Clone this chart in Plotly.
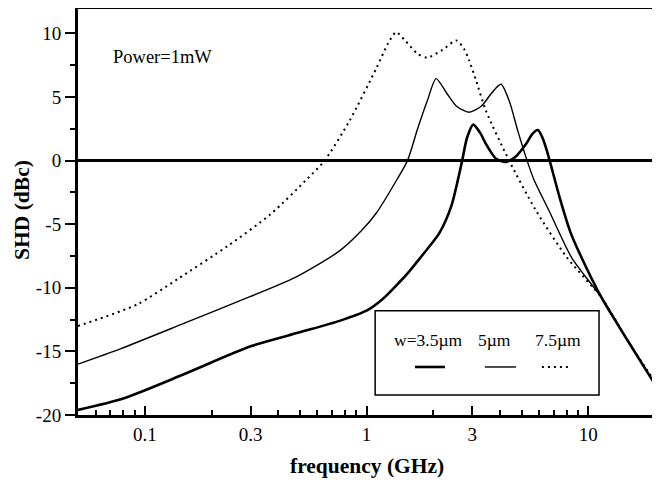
import plotly.graph_objects as go

# frequency (GHz) / SHD (dBc)
f_35 = [0.05, 0.08, 0.15, 0.3, 0.5, 0.756, 1.0, 1.18, 1.4, 1.56, 1.7, 1.9, 2.13, 2.41, 2.7, 2.84,
        3.03, 3.25, 3.46, 3.84, 4.26, 4.7, 5.24, 5.6, 5.93, 6.25, 6.5, 6.7, 7.5, 8.3, 9.2,
        11.5, 15, 20]
shd_35 = [-19.6, -18.7, -16.8, -14.6, -13.5, -12.6, -11.8, -10.9, -9.6, -8.7, -7.9, -6.85, -5.7, -3.6, 0.0, 1.8,
          2.83, 2.2, 1.3, 0.15, -0.1, 0.3, 1.3, 2.1, 2.4, 1.7, 0.8, 0.0, -3.15, -5.6, -7.4,
          -10.8, -14.1, -17.6]

f_5 = [0.05, 0.0776, 0.15, 0.298, 0.475, 0.756, 0.95, 1.11, 1.36, 1.53, 1.7, 1.88, 2.06,
       2.3, 2.54, 2.9, 3.3, 3.7, 4.04, 4.4, 4.8, 5.3, 5.69, 6.64, 8.4, 11.5, 15, 20]
shd_5 = [-16.0, -14.8, -12.8, -10.7, -9.2, -7.1, -5.5, -4.1, -1.6, 0.0, 2.5, 4.7, 6.45,
         5.3, 4.3, 3.8, 4.3, 5.4, 6.0, 4.7, 2.4, 0.0, -1.5, -3.9, -7.6, -10.8, -14.1, -17.6]

f_75 = [0.05, 0.0925, 0.141, 0.237, 0.37, 0.543, 0.647, 0.84, 1.11, 1.25, 1.36, 1.5, 1.7,
        1.88, 2.2, 2.54, 2.75, 2.9, 3.12, 3.46, 4.4, 5.8, 8.0, 11.5, 15, 20]
shd_75 = [-13.0, -11.3, -9.3, -6.7, -4.2, -1.4, 0.0, 3.15, 7.3, 9.2, 10.1, 9.4, 8.4,
          8.1, 8.7, 9.45, 8.8, 7.9, 6.3, 3.9, 0.0, -3.9, -7.6, -10.8, -14.1, -17.4]

x_ticks = [0.1, 0.3, 1, 3, 10]
x_labels = ["0.1", "0.3", "1", "3", "10"]
x_minor = [0.06, 0.07, 0.08, 0.09, 0.2, 0.4, 0.5, 0.6, 0.7, 0.8, 0.9,
           2, 4, 5, 6, 7, 8, 9]
y_ticks = [-20, -15, -10, -5, 0, 5, 10]
y_labels = ["-20", "-15", "-10", "-5", "0", "5", "10"]

serif = "Liberation Serif, Times New Roman, serif"

fig = go.Figure()
fig.add_trace(go.Scatter(x=f_35, y=shd_35, mode="lines", name="w=3.5µm",
                         line=dict(color="black", width=2.6, shape="spline", smoothing=0.7)))
fig.add_trace(go.Scatter(x=f_5, y=shd_5, mode="lines", name="5µm",
                         line=dict(color="black", width=1.4, shape="spline", smoothing=0.7)))
fig.add_trace(go.Scatter(x=f_75, y=shd_75, mode="lines", name="7.5µm",
                         line=dict(color="black", width=2, dash="2px,4px", shape="spline", smoothing=0.7)))

# thinner top and right frame
fig.add_shape(type="line", xref="paper", yref="paper", x0=0, x1=1, y0=1, y1=1,
              line=dict(color="black", width=2))
fig.add_shape(type="line", xref="paper", yref="paper", x0=1, x1=1, y0=0, y1=1,
              line=dict(color="black", width=2))

# legend box drawn by hand (text above line samples)
fig.add_shape(type="rect", xref="paper", yref="paper", x0=0.515, x1=0.903, y0=0.049, y1=0.256,
              line=dict(color="black", width=1.5), fillcolor="white", layer="above")
samples = [(0.584, 0.636, 2.6, "solid"), (0.705, 0.759, 1.4, "solid"), (0.804, 0.849, 2, "2px,4px")]
for x0, x1, w, d in samples:
    fig.add_shape(type="line", xref="paper", yref="paper", x0=x0, x1=x1, y0=0.118, y1=0.118,
                  line=dict(color="black", width=w, dash=d), layer="above")
for xl, txt in [(0.544, "w=3.5µm"), (0.690, "5µm"), (0.788, "7.5µm")]:
    fig.add_annotation(x=xl, y=0.184, xref="paper", yref="paper", text=txt, showarrow=False,
                       xanchor="left", yanchor="middle", font=dict(family=serif, size=17.5, color="black"))

fig.add_annotation(x=0.147, y=0.88, xref="paper", yref="paper", text="Power=1mW", showarrow=False,
                   xanchor="center", yanchor="middle", font=dict(family=serif, size=18.5, color="black"))

# axis titles
fig.add_annotation(x=0.5, y=-0.125, xref="paper", yref="paper", text="<b>frequency (GHz)</b>",
                   showarrow=False, xanchor="center", yanchor="middle",
                   font=dict(family=serif, size=21.5, color="black"))
fig.add_annotation(x=-0.097, y=0.504, xref="paper", yref="paper", text="<b>SHD (dBc)</b>",
                   textangle=-90, showarrow=False, xanchor="center", yanchor="middle",
                   font=dict(family=serif, size=21.5, color="black"))

# margins allow for the page's 8px body margin
fig.update_layout(
    width=660, height=480,
    margin=dict(l=70, r=13, t=0, b=73),
    plot_bgcolor="white", paper_bgcolor="white",
    showlegend=False,
    font=dict(family=serif, size=19, color="black"),
    xaxis=dict(type="log", range=[-1.301, 1.301], tickvals=x_ticks, ticktext=x_labels,
               ticks="inside", ticklen=9, tickwidth=2, tickcolor="black",
               minor=dict(tickvals=x_minor, ticks="inside", ticklen=5, tickwidth=1.5, tickcolor="black"),
               showline=True, linewidth=3, linecolor="black", showgrid=False, automargin=False),
    yaxis=dict(range=[-20, 12], tickvals=y_ticks, ticktext=y_labels,
               ticks="outside", ticklen=10, tickwidth=2, tickcolor="black",
               minor=dict(dtick=2.5, tick0=0, ticks="outside", ticklen=5, tickwidth=1.5, tickcolor="black"),
               showline=True, linewidth=3, linecolor="black", showgrid=False, automargin=False,
               zeroline=True, zerolinewidth=3, zerolinecolor="black"),
)

fig.write_html("out.html")
